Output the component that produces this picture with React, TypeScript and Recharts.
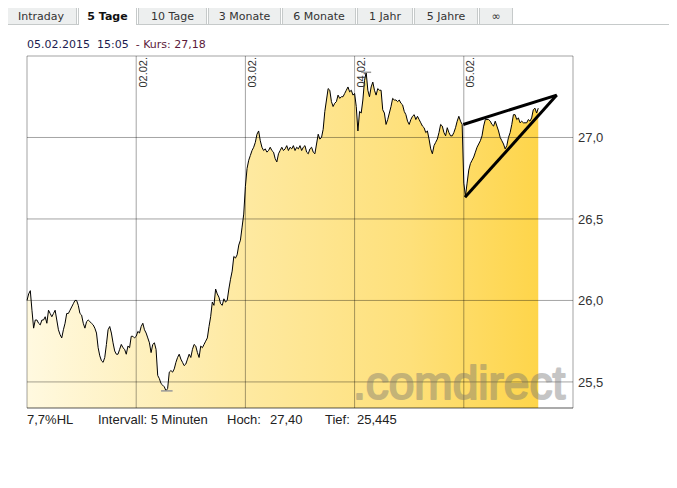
import React from "react";
import { AreaChart, Area, XAxis, YAxis, CartesianGrid, ReferenceLine } from "recharts";

// 5-Minuten-Kurse, je Handelstag (30.01. bis 05.02.2015, 15:05)
const day1 = [
  26.0, 26.04, 26.06, 25.94, 25.83, 25.88, 25.88, 25.86, 25.85, 25.88,
  25.88, 25.9, 25.86, 25.94, 25.92, 25.9, 25.92, 25.94, 25.88, 25.82,
  25.79, 25.77, 25.82, 25.86, 25.92, 25.92, 25.94, 25.96, 25.98, 26.0,
  26.0, 25.97, 25.92, 25.91, 25.86, 25.83, 25.87, 25.88, 25.87, 25.86,
  25.85, 25.83, 25.8, 25.71, 25.66, 25.63, 25.62, 25.65, 25.73, 25.82,
  25.84, 25.8, 25.74, 25.69, 25.67, 25.67, 25.7, 25.73, 25.71, 25.7,
  25.67, 25.72, 25.71, 25.78, 25.78, 25.77,
];
const day2 = [
  25.78, 25.81, 25.8, 25.84, 25.86, 25.82, 25.8, 25.77, 25.74, 25.68,
  25.73, 25.74, 25.7, 25.54, 25.52, 25.49, 25.48, 25.47, 25.445, 25.46,
  25.56, 25.57, 25.56, 25.58, 25.62, 25.65, 25.67, 25.64, 25.62, 25.6,
  25.61, 25.64, 25.67, 25.65, 25.7, 25.73, 25.72, 25.68, 25.65, 25.72,
  25.71, 25.73, 25.75, 25.77, 25.84, 25.9, 25.99, 25.97, 26.07, 26.04,
  26.02, 25.98, 25.97, 26.01, 25.99, 26.0, 26.07, 26.13, 26.18, 26.27,
  26.26, 26.28, 26.34, 26.37, 26.45, 26.53,
];
const day3 = [
  26.7, 26.81, 26.86, 26.89, 26.92, 26.94, 26.97, 27.02, 27.04, 26.98,
  26.94, 26.92, 26.93, 26.91, 26.92, 26.94, 26.92, 26.91, 26.87, 26.85,
  26.9, 26.92, 26.94, 26.92, 26.93, 26.95, 26.92, 26.94, 26.93, 26.95,
  26.92, 26.94, 26.93, 26.95, 26.92, 26.94, 26.95, 26.91, 26.9, 26.93,
  26.94, 26.91, 26.9, 26.96, 27.02, 26.99, 27.0, 27.05, 27.16, 27.23,
  27.3, 27.29, 27.22, 27.19, 27.21, 27.22, 27.26, 27.24, 27.25, 27.25,
  27.27, 27.29, 27.31, 27.28, 27.29, 27.26,
];
const day4 = [
  27.27, 27.19, 27.04, 27.16, 27.15, 27.23, 27.35, 27.4, 27.29, 27.25,
  27.31, 27.34, 27.29, 27.26, 27.3, 27.29, 27.29, 27.17, 27.15, 27.08,
  27.11, 27.15, 27.19, 27.24, 27.23, 27.23, 27.22, 27.23, 27.21, 27.2,
  27.16, 27.14, 27.1, 27.08, 27.11, 27.13, 27.14, 27.11, 27.13, 27.11,
  27.09, 27.07, 27.06, 27.03, 27.04, 26.99, 26.93, 26.9, 26.95, 26.97,
  26.99, 27.03, 27.08, 27.07, 27.03, 27.01, 27.06, 27.03, 27.01, 27.01,
  27.03, 27.06, 27.1, 27.13, 27.1, 27.08,
];
const day5 = [
  26.72, 26.64, 26.72, 26.8, 26.84, 26.86, 26.88, 26.91, 26.94, 26.96,
  26.98, 27.01, 27.07, 27.11, 27.11, 27.11, 27.1, 27.08, 27.07, 27.1,
  27.07, 27.04, 27.0, 26.98, 26.96, 26.93, 26.95, 27.0, 27.03, 27.08,
  27.14, 27.14, 27.11, 27.12, 27.09, 27.1, 27.09, 27.09, 27.09, 27.11,
  27.1, 27.12, 27.17, 27.18, 27.15, 27.18,
];

const dayTicks = [66, 132, 198, 264, 330];
const dayLabels = ["02.02.", "03.02.", "04.02.", "05.02."];
const priceTicks = [25.5, 26, 26.5, 27];
const priceDomain = [25.34, 27.5];

// Dreieck (Trendlinien) und Hoch/Tief-Markierungen
const trendUpper = [{ x: 263.7, y: 27.08 }, { x: 320.2, y: 27.26 }];
const trendLower = [{ x: 264.7, y: 26.633 }, { x: 320.2, y: 27.26 }];
const lowMark = [{ x: 81, y: 25.445 }, { x: 88, y: 25.445 }];
const highMark = [{ x: 202, y: 27.4 }, { x: 208, y: 27.4 }];

const tabs = ["Intraday", "5 Tage", "10 Tage", "3 Monate", "6 Monate", "1 Jahr", "5 Jahre", "∞"];
const tabWidths = [72, 59, 69, 73, 74, 56, 64, 34];
const activeTab = 1;

const footer = [
  { text: "7,7%HL", x: 27 },
  { text: "Intervall: 5 Minuten", x: 98 },
  { text: "Hoch:", x: 227 },
  { text: "27,40", x: 270 },
  { text: "Tief:", x: 325 },
  { text: "25,445", x: 357 },
];

const series = [day1, day2, day3, day4, day5].flat();
const data = series.map((kurs, i) => ({ i, kurs }));

const PLOT_TOP = 56;
const GRID = "rgba(0,0,0,0.36)";
const verdana = "'DejaVu Sans', Verdana, sans-serif";
const arial = "'Liberation Sans', Arial, sans-serif";

const DayLabel = (props: any) => {
  const { viewBox, text } = props;
  if (!viewBox) return null;
  const bx = viewBox.x + 10.5;
  const by = viewBox.y + 1;
  return (
    <text
      x={bx}
      y={by}
      transform={`rotate(-90 ${bx} ${by})`}
      textAnchor="end"
      fill="#333"
      fontSize={11}
      fontFamily={arial}
    >
      {text}
    </text>
  );
};

export default function App() {
  let left = 5;
  const tabEls = tabs.map((t, k) => {
    const w = tabWidths[k];
    const active = k === activeTab;
    const el = (
      <div
        key={t}
        style={{
          position: "absolute",
          left,
          top: active ? 1 : 5,
          width: w,
          height: active ? 24 : 19,
          boxSizing: "border-box",
          border: "1px solid #c6caca",
          borderBottom: "none",
          borderRadius: "4px 4px 0 0",
          background: active ? "#fff" : "#edefef",
          textAlign: "center",
          fontFamily: verdana,
          fontSize: 11,
          fontWeight: active ? "bold" : "normal",
          color: active ? "#111" : "#333",
          lineHeight: "21px",
          paddingTop: active ? 4 : 0,
          zIndex: active ? 2 : 1,
        }}
      >
        {t}
      </div>
    );
    left += w + 1;
    return el;
  });

  return (
    <div style={{ position: "relative", width: 677, height: 488, margin: -8, background: "#fff", overflow: "hidden" }}>
      {tabEls}
      <div style={{ position: "absolute", left: 5, top: 24, width: 672, height: 1, background: "#c6caca" }} />
      <div style={{ position: "absolute", left: 5, top: 24, width: 1, height: 403, background: "#cfcfcf" }} />

      <div
        style={{
          position: "absolute",
          left: 27,
          top: 38,
          fontFamily: verdana,
          fontSize: 11,
          lineHeight: "13px",
          whiteSpace: "pre",
          color: "#1c1c50",
        }}
      >
        05.02.2015  15:05  <span style={{ color: "#5c1a3a" }}>- Kurs: 27,18</span>
      </div>

      <AreaChart
        width={677}
        height={488}
        data={data}
        margin={{ top: PLOT_TOP, left: 27, right: 64, bottom: 80 }}
        style={{ position: "absolute", left: 0, top: 0 }}
      >
        <defs>
          <linearGradient id="kursFill" x1="0" y1="0" x2="1" y2="0">
            <stop offset="0%" stopColor="#fff9e0" />
            <stop offset="40%" stopColor="#feeaa4" />
            <stop offset="75%" stopColor="#fee07a" />
            <stop offset="100%" stopColor="#fed54a" />
          </linearGradient>
        </defs>
        <XAxis dataKey="i" type="number" domain={[0, 330]} ticks={dayTicks} hide />
        <YAxis
          orientation="right"
          type="number"
          domain={priceDomain}
          ticks={priceTicks}
          width={40}
          axisLine={false}
          tickLine={false}
          tickSize={3}
          tickMargin={2}
          tick={{ fill: "#333", fontSize: 13, fontFamily: arial }}
          tickFormatter={(v: number) => v.toFixed(1).replace(".", ",")}
        />
        <Area
          type="linear"
          dataKey="kurs"
          stroke="#000"
          strokeWidth={1}
          fill="url(#kursFill)"
          fillOpacity={1}
          dot={false}
          activeDot={false}
          isAnimationActive={false}
        />
        <CartesianGrid stroke={GRID} zIndex={500} />
        <ReferenceLine y={priceDomain[0]} stroke={GRID} />
        {dayLabels.map((d, k) => (
          <ReferenceLine
            key={d}
            x={dayTicks[k]}
            stroke="none"
            label={<DayLabel text={d} />}
          />
        ))}
        <ReferenceLine segment={lowMark} stroke="#999" strokeWidth={1.5} />
        <ReferenceLine segment={highMark} stroke="#999" strokeWidth={1.5} />
        <ReferenceLine segment={trendUpper} stroke="#000" strokeWidth={3} />
        <ReferenceLine segment={trendLower} stroke="#000" strokeWidth={3} />
      </AreaChart>

      <svg width={677} height={488} style={{ position: "absolute", left: 0, top: 0, pointerEvents: "none" }}>
        <g opacity={0.4}>
          <text
            x={353}
            y={399}
            fontSize={46}
            fontFamily={arial}
            fill="#6f6f6f"
            stroke="#6f6f6f"
            strokeWidth={2}
            strokeLinejoin="round"
          >
            .comdirect
          </text>
        </g>
      </svg>

      {footer.map((f) => (
        <div
          key={f.text}
          style={{
            position: "absolute",
            left: f.x,
            top: 412,
            fontFamily: arial,
            fontSize: 13,
            lineHeight: "15px",
            color: "#222",
            whiteSpace: "pre",
          }}
        >
          {f.text}
        </div>
      ))}
    </div>
  );
}
